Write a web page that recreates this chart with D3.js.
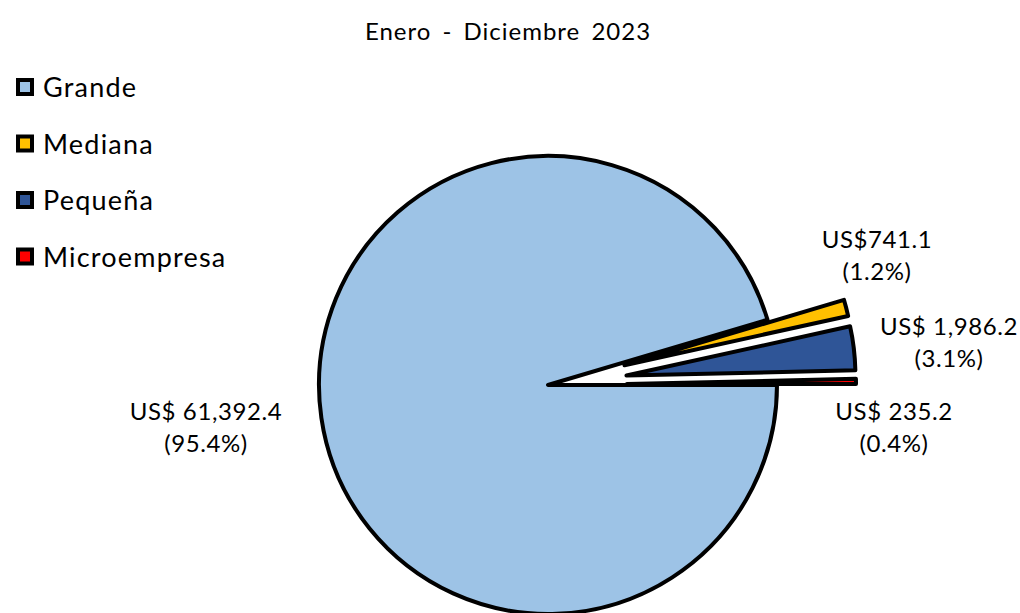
<!DOCTYPE html>
<html><head><meta charset="utf-8">
<script src="https://cdn.jsdelivr.net/npm/d3@7"></script>
<style>body{margin:0;background:#fff}svg{display:block;font-family:Lato,"Open Sans",sans-serif}</style>
</head><body><svg id="c" width="1020" height="613"></svg>
<script>
const categories = ["Grande", "Mediana", "Pequeña", "Microempresa"];
const values = [61392.4, 741.1, 1986.2, 235.2];
const valueLabels = ["US$ 61,392.4", "US$741.1", "US$ 1,986.2", "US$ 235.2"];
const pctLabels = ["(95.4%)", "(1.2%)", "(3.1%)", "(0.4%)"];
const colors = ["#9DC3E6", "#FFC000", "#2F5597", "#FF0000"];
const exploded = [false, true, true, true];
const title = "Enero - Diciembre 2023";

const svg = d3.select("#c");
const cx = 548, cy = 385, R = 229, explode = 79;
// label anchor offsets (first-line baseline) relative to pie center (layout only)
const labelPos = [[-342, 35], [329, -137], [401, -50], [346, 35]];

svg.append("text").attr("x", 508).attr("y", 40).attr("text-anchor", "middle")
  .attr("font-size", 24).attr("letter-spacing", 1).attr("word-spacing", 4)
  .attr("fill", "#000").text(title);

const pie = d3.pie().sort(null).value(d => d)
  .startAngle(Math.PI / 2).endAngle(Math.PI / 2 + 2 * Math.PI);
const arcs = pie(values);
const arc = d3.arc().innerRadius(0).outerRadius(R);

const g = svg.append("g").attr("transform", `translate(${cx},${cy})`);
g.selectAll("path").data(arcs).join("path")
  .attr("d", arc)
  .attr("fill", (d, i) => colors[i])
  .attr("stroke", "#000").attr("stroke-width", 4).attr("stroke-linejoin", "round")
  .attr("transform", (d, i) => {
    if (!exploded[i]) return null;
    const a = (d.startAngle + d.endAngle) / 2;
    return `translate(${explode * Math.sin(a)},${-explode * Math.cos(a)})`;
  });

const lab = g.selectAll("g.lab").data(arcs).join("g").attr("class", "lab")
  .attr("transform", (d, i) => `translate(${labelPos[i][0]},${labelPos[i][1]})`);
lab.append("text").attr("text-anchor", "middle").attr("y", 0).attr("font-size", 24)
  .attr("letter-spacing", 0.6).text((d, i) => valueLabels[i]);
lab.append("text").attr("text-anchor", "middle").attr("y", 32).attr("font-size", 24)
  .attr("letter-spacing", 0.6).text((d, i) => pctLabels[i]);

const leg = svg.append("g").selectAll("g").data(categories).join("g")
  .attr("transform", (d, i) => `translate(18,${80 + i * 56.5})`);
leg.append("rect").attr("width", 14).attr("height", 14)
  .attr("fill", (d, i) => colors[i]).attr("stroke", "#000").attr("stroke-width", 4);
leg.append("text").attr("x", 25).attr("y", 17).attr("font-size", 27)
  .attr("letter-spacing", 1.2).text(d => d);
</script></body></html>
